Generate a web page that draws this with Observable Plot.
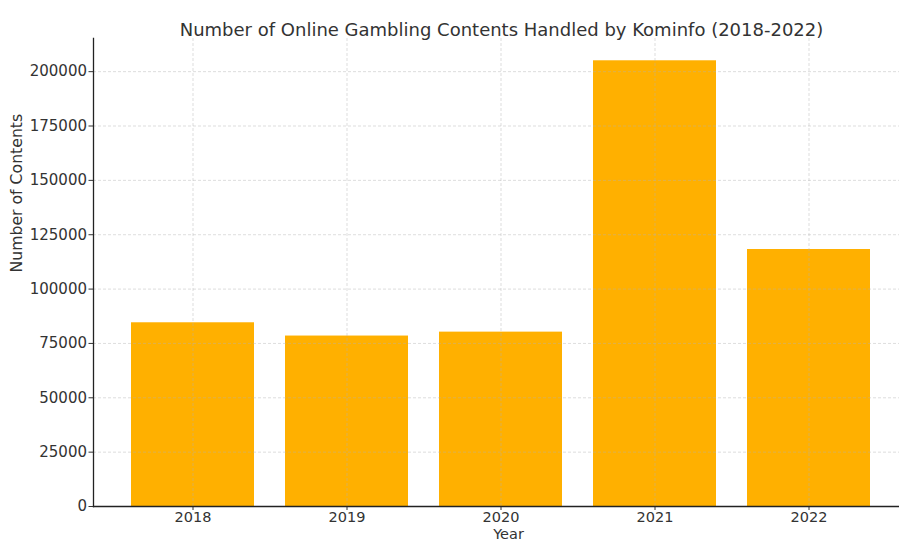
<!DOCTYPE html>
<html>
<head>
<meta charset="utf-8">
<script src="https://cdn.jsdelivr.net/npm/d3@7"></script>
<script src="https://cdn.jsdelivr.net/npm/@observablehq/plot@0.6"></script>
<style>
  html, body { margin: 0; padding: 0; background: #fff; overflow: hidden; }
  #chart svg { display: block; }
</style>
</head>
<body>
<div id="chart"></div>
<script>
const years = ["2018", "2019", "2020", "2021", "2022"];
const contents = [84500, 78400, 80200, 205000, 118200];
const yTicks = [0, 25000, 50000, 75000, 100000, 125000, 150000, 175000, 200000];
const titleText = "Number of Online Gambling Contents Handled by Kominfo (2018-2022)";
const xLabel = "Year";
const yLabel = "Number of Contents";

const data = years.map((y, i) => ({year: y, value: contents[i]}));

const textColor = "#333333";
const fontFam = "DejaVu Sans, sans-serif";

const chart = Plot.plot({
  width: 899,
  height: 542,
  marginLeft: 93,
  marginRight: -10,
  marginTop: 38,
  marginBottom: 36,
  style: {fontFamily: fontFam, fontSize: "15px", color: textColor, background: "#fff", overflow: "hidden"},
  x: {domain: years, paddingInner: 0.2, paddingOuter: 0.24, label: null},
  y: {domain: [0, 215250], label: null},
  marks: [
    Plot.barY(data, {x: "year", y: "value", fill: "#FFB000"}),
    Plot.gridX({stroke: "#b0b0b0", strokeOpacity: 0.55, strokeDasharray: "3,2", strokeWidth: 0.8}),
    Plot.gridY(yTicks, {stroke: "#b0b0b0", strokeOpacity: 0.55, strokeDasharray: "3,2", strokeWidth: 0.8}),
    Plot.axisX({tickSize: 4, tickPadding: 1, label: null, fontSize: 14.5, color: textColor}),
    Plot.axisY(yTicks, {tickSize: 4.5, tickPadding: 2, tickFormat: d => String(d), label: null, fontSize: 15, color: textColor}),
    Plot.frame({anchor: "left", stroke: "#222", strokeWidth: 1.3}),
    Plot.frame({anchor: "bottom", stroke: "#222", strokeWidth: 1.3}),
    Plot.text([titleText], {frameAnchor: "top", dx: 0, dy: -15, fontSize: 18, fill: textColor, text: d => d}),
    Plot.text([yLabel], {frameAnchor: "left", dx: -77, rotate: -90, fontSize: 15.7, fill: textColor, text: d => d}),
    Plot.text([xLabel], {frameAnchor: "bottom", lineAnchor: "bottom", dx: 7, dy: 32.5, fontSize: 14.5, fill: textColor, text: d => d})
  ]
});
document.getElementById("chart").appendChild(chart);
</script>
</body>
</html>
